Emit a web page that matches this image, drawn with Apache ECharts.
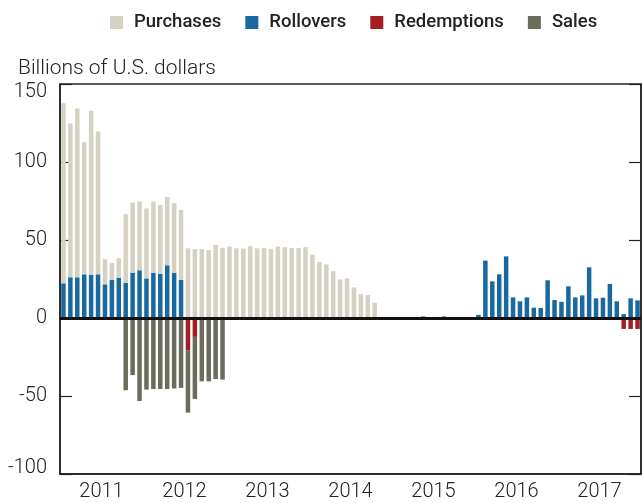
<!DOCTYPE html>
<html>
<head>
<meta charset="utf-8">
<script src="https://cdn.jsdelivr.net/npm/echarts@6/dist/echarts.min.js"></script>
<style>
  html, body { margin: 0; padding: 0; background: #fff; }
  #chart { width: 642px; height: 503px; }
</style>
</head>
<body>
<div id="chart"></div>
<script>
const years = ['2011', '2012', '2013', '2014', '2015', '2016', '2017'];
const yTicks = [-100, -50, 0, 50, 100, 150];

// monthly values, Jan 2011 .. Dec 2017 (84 months), billions of U.S. dollars
const purchases = [
  115.4, 98.5, 108.2, 84.6, 105.2, 91.5, 16.1, 10.9, 12.5, 44.0, 45.0, 44.1,
  44.8, 45.7, 44.2, 43.7, 44.6, 44.9, 44.7, 44.1, 44.1, 43.6, 46.9, 44.9,
  45.8, 44.7, 44.5, 46.0, 44.7, 44.9, 44.3, 45.8, 45.4, 44.9, 44.9, 45.4,
  40.6, 35.9, 34.4, 30.0, 24.7, 25.4, 19.6, 15.2, 14.7, 9.8, 0, 0,
  0, 0, 0, 0, 0, 0, 0, 0, 0, 0, 0, 0,
  0, 0, 0, 0, 0, 0, 0, 0, 0, 0, 0, 0,
  0, 0, 0, 0, 0, 0, 0, 0, 0, 0, 0, 0
];
const rollovers = [
  22.2, 26.1, 26.1, 28.0, 27.6, 28.0, 21.6, 24.4, 25.8, 22.6, 29.0, 30.6,
  25.4, 29.0, 28.2, 33.8, 29.0, 24.4, 0, 0, 0, 0, 0, 0,
  0, 0, 0, 0, 0, 0, 0, 0, 0, 0, 0, 0,
  0, 0, 0, 0, 0, 0, 0, 0, 0, 0, 0.4, 0,
  0, 0, 0, 0.3, 1.0, 0, 0, 1.0, 0, 0, 0.4, 0,
  2.0, 36.8, 23.5, 28.0, 39.5, 13.2, 10.7, 13.2, 6.6, 6.4, 24.2, 11.5,
  10.4, 20.3, 13.2, 14.5, 32.5, 12.6, 13.0, 21.8, 10.7, 2.5, 12.6, 11.3
];
const redemptions = [
  0, 0, 0, 0, 0, 0, 0, 0, 0, 0, 0, 0,
  0, 0, 0, 0, 0, 0, -20.6, -12.1, 0, 0, 0, 0,
  0, 0, 0, 0, 0, 0, 0, 0, 0, 0, 0, 0,
  0, 0, 0, 0, 0, 0, 0, 0, 0, 0, 0, 0,
  0, 0, 0, 0, 0, 0, 0, 0, 0, 0, 0, 0,
  0, 0, 0, 0, 0, 0, 0, 0, 0, 0, 0, 0,
  0, 0, 0, 0, 0, 0, 0, 0, 0, -7.0, -7.0, -7.0
];
const sales = [
  0, 0, 0, 0, 0, 0, 0, 0, 0, -46.3, -36.6, -53.2,
  -45.9, -45.5, -45.5, -45.5, -45.2, -44.8, -40.1, -39.8, -40.6, -40.6, -39.1, -39.5,
  0, 0, 0, 0, 0, 0, 0, 0, 0, 0, 0, 0,
  0, 0, 0, 0, 0, 0, 0, 0, 0, 0, 0, 0,
  0, 0, 0, 0, 0, 0, 0, 0, 0, 0, 0, 0,
  0, 0, 0, 0, 0, 0, 0, 0, 0, 0, 0, 0,
  0, 0, 0, 0, 0, 0, 0, 0, 0, 0, 0, 0
];

const months = [];
years.forEach(y => {
  for (let m = 1; m <= 12; m++) months.push(y + '-' + (m < 10 ? '0' + m : m));
});

const colors = {
  purchases: '#d5d2c3',
  rollovers: '#1a68a0',
  redemptions: '#a31f24',
  sales: '#6b6c5b'
};
const labelFont = { fontFamily: 'Roboto', fontSize: 20, fontWeight: 300, color: '#222' };

const chart = echarts.init(document.getElementById('chart'));

const barBase = {
  type: 'bar',
  stack: 'total',
  xAxisIndex: 0,
  yAxisIndex: 0,
  barCategoryGap: '35%',
  animation: false
};

const options = {
  legend: {
    data: ['Purchases', 'Rollovers', 'Redemptions', 'Sales'],
    left: 105,
    top: 8,
    icon: 'rect',
    itemWidth: 13,
    itemHeight: 13,
    itemGap: 24,
    textStyle: {
      fontFamily: 'Roboto',
      fontSize: 18.5,
      fontWeight: 500,
      color: '#222',
      padding: [0, 0, 0, 6]
    }
  },
  title: {
    text: 'Billions of U.S. dollars',
    left: 13,
    top: 53,
    textStyle: { fontFamily: 'Roboto', fontSize: 21, fontWeight: 300, color: '#222' }
  },
  grid: {
    left: 60,
    right: 1,
    top: 84,
    bottom: 29,
    show: true,
    borderColor: '#222',
    borderWidth: 1.5
  },
  xAxis: [{
    type: 'category',
    data: months,
    position: 'bottom',
    boundaryGap: true,
    axisLine: { onZero: false, lineStyle: { color: '#222', width: 1.5 } },
    axisTick: {
      inside: true,
      length: 17,
      interval: (i) => i % 3 === 0,
      lineStyle: { color: '#222', width: 1.2 }
    },
    axisLabel: { show: false },
    splitLine: { show: false }
  }, {
    // year labels and year ticks
    type: 'category',
    data: years,
    position: 'bottom',
    boundaryGap: true,
    axisLine: { show: false, onZero: false },
    axisTick: { inside: true, length: 24, lineStyle: { color: '#222', width: 1.2 } },
    axisLabel: Object.assign({ margin: 8 }, labelFont),
    splitLine: { show: false }
  }],
  yAxis: [{
    type: 'value',
    min: yTicks[0],
    max: yTicks[yTicks.length - 1],
    interval: 50,
    position: 'left',
    axisLine: { show: true, lineStyle: { color: '#222', width: 1.5 } },
    axisTick: { show: true, inside: true, length: 12, lineStyle: { color: '#222', width: 1.2 } },
    axisLabel: Object.assign({
      margin: 13,
      formatter: (v) => v === 150 ? '{top|150}' : (v === -100 ? '{bot|-100}' : String(v)),
      rich: {
        top: Object.assign({ padding: [16, 0, 0, 0] }, labelFont),
        bot: Object.assign({ padding: [0, 0, 12, 0] }, labelFont)
      }
    }, labelFont),
    splitLine: { show: false }
  }, {
    type: 'value',
    min: yTicks[0],
    max: yTicks[yTicks.length - 1],
    interval: 50,
    position: 'right',
    axisLine: { show: true, lineStyle: { color: '#222', width: 1.5 } },
    axisTick: { show: true, inside: true, length: 12, lineStyle: { color: '#222', width: 1.2 } },
    axisLabel: { show: false },
    splitLine: { show: false }
  }],
  series: [
    Object.assign({ name: 'Rollovers', data: rollovers, itemStyle: { color: colors.rollovers } }, barBase),
    Object.assign({ name: 'Purchases', data: purchases, itemStyle: { color: colors.purchases } }, barBase),
    Object.assign({ name: 'Redemptions', data: redemptions, itemStyle: { color: colors.redemptions } }, barBase),
    Object.assign({
      name: 'Sales',
      data: sales,
      itemStyle: { color: colors.sales },
      markLine: {
        silent: true,
        symbol: 'none',
        label: { show: false },
        lineStyle: { color: '#111', width: 3, type: 'solid' },
        data: [{ yAxis: 0 }]
      }
    }, barBase)
  ]
};

chart.setOption(options);
</script>
</body>
</html>
